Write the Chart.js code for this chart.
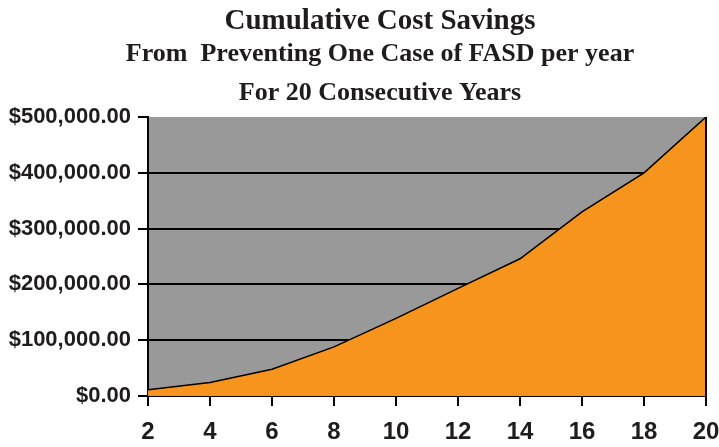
<!DOCTYPE html>
<html>
<head>
<meta charset="utf-8">
<script src="https://cdn.jsdelivr.net/npm/chart.js@4.4.1/dist/chart.umd.min.js"></script>
<style>
  html, body { margin: 0; padding: 0; background: #ffffff; }
  #wrap { width: 719px; height: 447px; position: relative; }
</style>
</head>
<body>
<div id="wrap"><canvas id="c" width="719" height="447"></canvas></div>
<script>
// ---- data ----
const titleLines = [
  "Cumulative Cost Savings",
  "From  Preventing One Case of FASD per year",
  "For 20 Consecutive Years"
];
const years = [2, 4, 6, 8, 10, 12, 14, 16, 18, 20];
const savings = [11000, 24000, 48000, 88000, 139000, 193000, 246000, 330000, 400000, 500000];
const yTickValues = [0, 100000, 200000, 300000, 400000, 500000];
const xTickValues = [2, 4, 6, 8, 10, 12, 14, 16, 18, 20];

const GRAY = '#999999';
const ORANGE = '#F7941D';
const INK = '#1e1c1d';

function money(v) {
  return '$' + Number(v).toLocaleString('en-US', { minimumFractionDigits: 2, maximumFractionDigits: 2 });
}

const plotBgAndTitle = {
  id: 'plotBgAndTitle',
  beforeDraw(chart) {
    const { ctx, chartArea: a } = chart;
    ctx.save();
    ctx.fillStyle = GRAY;
    ctx.fillRect(a.left, a.top, a.right - a.left, a.bottom - a.top);
    ctx.restore();
  },
  afterDatasetsDraw(chart) {
    const { ctx, chartArea: a } = chart;
    const xs = chart.scales.x;
    const xr = xs.getPixelForValue(20);
    ctx.save();
    ctx.strokeStyle = '#000';
    ctx.lineWidth = 2;
    ctx.beginPath();
    ctx.moveTo(xr, a.top);
    ctx.lineTo(xr, a.bottom);
    ctx.stroke();
    ctx.restore();
  },
  afterDraw(chart) {
    const ctx = chart.ctx;
    ctx.save();
    ctx.fillStyle = INK;
    ctx.textAlign = 'center';
    ctx.textBaseline = 'alphabetic';
    const specs = [
      { size: 29, y: 29 },
      { size: 26, y: 61 },
      { size: 26, y: 100 }
    ];
    titleLines.forEach((t, i) => {
      ctx.font = 'bold ' + specs[i].size + 'px "Liberation Serif", "Times New Roman", serif';
      ctx.fillText(t, 380, specs[i].y);
    });
    ctx.restore();
  }
};

new Chart(document.getElementById('c'), {
  type: 'line',
  data: {
    datasets: [{
      data: years.map((x, i) => ({ x: x, y: savings[i] })),
      borderColor: '#000000',
      borderWidth: 1.5,
      backgroundColor: ORANGE,
      fill: 'origin',
      pointRadius: 0,
      tension: 0
    }]
  },
  options: {
    responsive: false,
    animation: false,
    devicePixelRatio: 1,
    layout: { padding: { top: 117, right: 13, left: 0, bottom: 0 } },
    plugins: {
      legend: { display: false },
      tooltip: { enabled: false },
      title: { display: false }
    },
    scales: {
      x: {
        type: 'linear',
        min: 2,
        max: 20,
        afterFit(s) { s.height = 51; s.paddingLeft = 0; s.paddingRight = 0; },
        afterBuildTicks(s) { s.ticks = xTickValues.map(v => ({ value: v })); },
        grid: {
          drawOnChartArea: false,
          tickLength: 10,
          tickColor: '#000',
          lineWidth: 2
        },
        border: { display: true, color: '#000', width: 2 },
        ticks: {
          color: INK,
          padding: 12,
          maxRotation: 0,
          autoSkip: false,
          font: { family: '"Liberation Sans", Arial, sans-serif', weight: 'bold', size: 24 }
        }
      },
      y: {
        min: 0,
        max: 500000,
        afterFit(s) { s.width = 148; s.paddingTop = 0; s.paddingBottom = 0; },
        afterBuildTicks(s) { s.ticks = yTickValues.map(v => ({ value: v })); },
        grid: {
          color: (c) => (c.tick && c.tick.value === 500000) ? 'rgba(0,0,0,0)' : '#000',
          lineWidth: 2,
          tickLength: 10,
          tickColor: '#000'
        },
        border: { display: true, color: '#000', width: 2 },
        ticks: {
          color: INK,
          padding: 7,
          callback: (v) => money(v),
          font: { family: '"Liberation Sans", Arial, sans-serif', weight: 'bold', size: 22 }
        }
      }
    }
  },
  plugins: [plotBgAndTitle]
});
</script>
</body>
</html>
